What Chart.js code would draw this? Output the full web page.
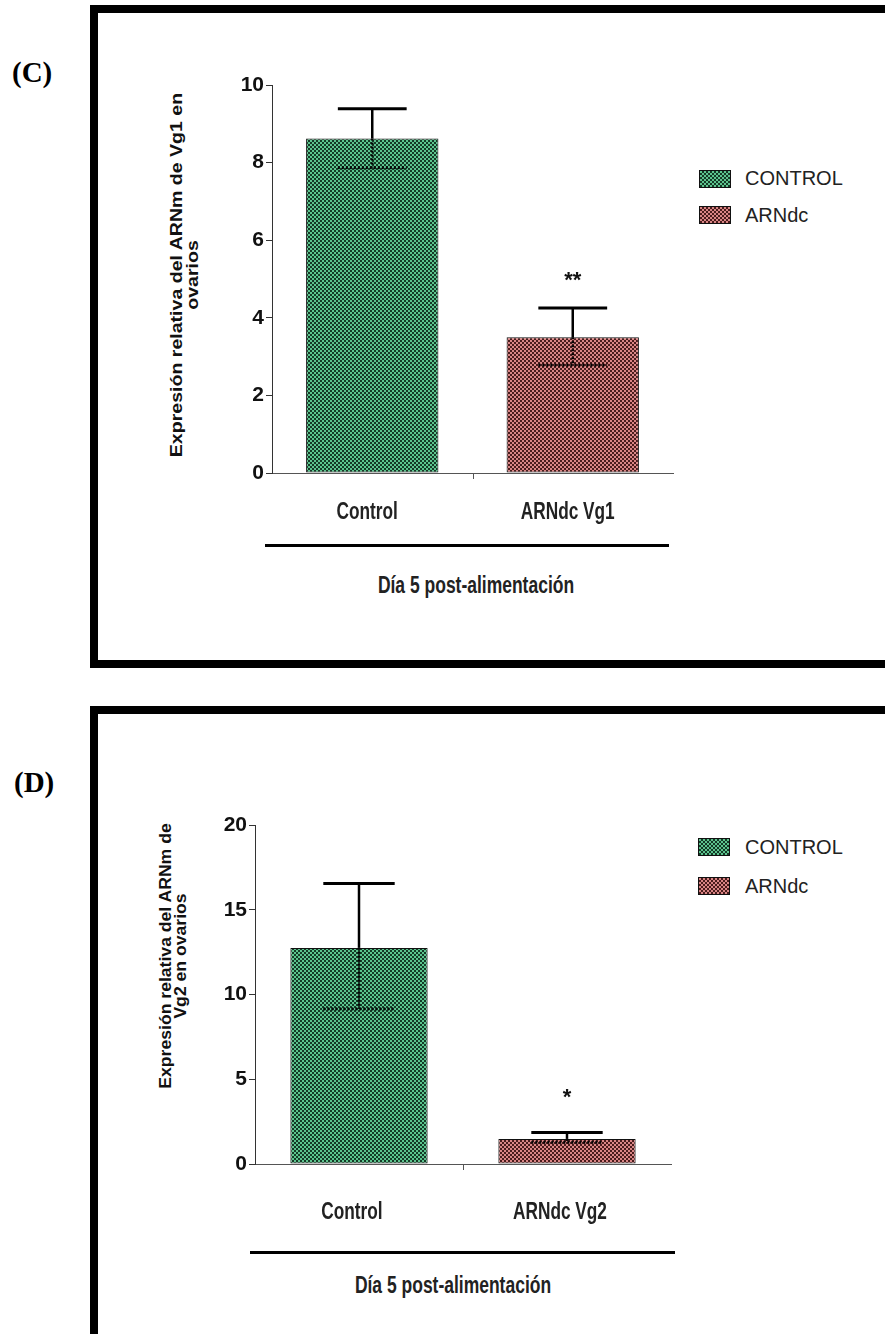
<!DOCTYPE html>
<html><head><meta charset="utf-8">
<script src="https://cdn.jsdelivr.net/npm/chart.js@4.4.1/dist/chart.umd.min.js"></script>
<style>
html,body{margin:0;padding:0;background:#fff;width:885px;height:1334px;overflow:hidden;position:relative;}
.frame{position:absolute;border:8px solid #000;box-sizing:border-box;}
.plabel{position:absolute;font-family:"Liberation Serif","Times New Roman",serif;font-weight:bold;font-size:29px;color:#000;line-height:30px;}
.ytitle{position:absolute;font-family:"Liberation Sans",Arial,sans-serif;font-weight:bold;color:#111;text-align:center;white-space:nowrap;transform-origin:50% 50%;}
.sw{position:absolute;width:32px;height:18px;box-sizing:border-box;border:1px solid #111;}
.sw.g{background:repeating-conic-gradient(#143a26 0 25%,#5cc48e 0 50%) 0 0/4px 4px;}
.sw.r{background:repeating-conic-gradient(#4a1c1c 0 25%,#d98585 0 50%) 0 0/4px 4px;}
.lt{position:absolute;font-family:"Liberation Sans",Arial,sans-serif;font-size:20px;line-height:20px;color:#222;}
.hline{position:absolute;height:3px;background:#000;}
.foot{position:absolute;width:300px;text-align:center;font-family:"Liberation Sans",Arial,sans-serif;font-weight:bold;font-size:23px;line-height:24px;color:#222;transform:scaleX(0.76);transform-origin:50% 50%;}
canvas{position:absolute;left:0;}
</style>
</head><body>
<div class="frame" style="left:90px;top:5px;width:830px;height:663px;"></div>
<div class="frame" style="left:90px;top:706px;width:830px;height:640px;"></div>
<div class="plabel" style="left:12px;top:57px;">(C)</div>
<div class="plabel" style="left:14px;top:767px;">(D)</div>

<div class="ytitle" style="font-size:17px;line-height:16px;width:440px;left:-35px;top:259px;transform:rotate(-90deg) scaleX(1.15);">Expresión relativa del ARNm de Vg1 en<br>ovarios</div>
<div class="ytitle" style="font-size:16px;line-height:15px;width:400px;left:-27px;top:941px;transform:rotate(-90deg) scaleX(1.1);">Expresión relativa del ARNm de<br>Vg2 en ovarios</div>

<div class="sw g" style="left:699px;top:170px;"></div><div class="lt" style="left:745px;top:168px;">CONTROL</div>
<div class="sw r" style="left:699px;top:206px;"></div><div class="lt" style="left:745px;top:205px;">ARNdc</div>
<div class="sw g" style="left:698px;top:838px;"></div><div class="lt" style="left:745px;top:837px;">CONTROL</div>
<div class="sw r" style="left:698px;top:877px;"></div><div class="lt" style="left:745px;top:876px;">ARNdc</div>

<div class="hline" style="left:265px;top:544px;width:404px;"></div>
<div class="hline" style="left:250px;top:1251px;width:425px;"></div>
<div class="foot" style="left:326px;top:573px;">Día 5 post-alimentación</div>
<div class="foot" style="left:303px;top:1273px;">Día 5 post-alimentación</div>

<canvas id="cC" width="885" height="700" style="top:0;width:885px;height:700px;"></canvas>
<canvas id="cD" width="885" height="634" style="top:700px;width:885px;height:634px;"></canvas>

<script>
// ---- Data ----
const categoriesC = ['Control', 'ARNdc Vg1'];
const meansC = [8.62, 3.50];
const errHighC = [9.39, 4.25];
const errLowC = [7.87, 2.78];
const starsC = ['', '**'];
const yTicksC = [0, 2, 4, 6, 8, 10];

const categoriesD = ['Control', 'ARNdc Vg2'];
const meansD = [12.75, 1.48];
const errHighD = [16.55, 1.86];
const errLowD = [9.15, 1.28];
const starsD = ['', '*'];
const yTicksD = [0, 5, 10, 15, 20];

const seriesNames = ['CONTROL', 'ARNdc'];

function makePattern(light, dark) {
  const c = document.createElement('canvas');
  c.width = 4; c.height = 4;
  const g = c.getContext('2d');
  g.fillStyle = light; g.fillRect(0, 0, 4, 4);
  g.fillStyle = dark; g.fillRect(0, 0, 2, 2); g.fillRect(2, 2, 2, 2);
  return g.createPattern(c, 'repeat');
}
const greenPat = makePattern('#5cc48e', '#143a26');
const redPat = makePattern('#d98585', '#4a1c1c');

const errorBarPlugin = {
  id: 'errorBars',
  afterDatasetsDraw(chart, args, opts) {
    const { ctx } = chart;
    const y = chart.scales.y, x = chart.scales.x;
    const meta = chart.getDatasetMeta(0);
    ctx.save();
    meta.data.forEach((bar, i) => {
      const cx = bar.x;
      const yHi = y.getPixelForValue(opts.high[i]);
      const yLo = y.getPixelForValue(opts.low[i]);
      const yMean = bar.y;
      const capW = bar.width * 0.52;
      ctx.strokeStyle = '#000';
      ctx.setLineDash([]);
      ctx.lineWidth = 2.5;
      ctx.beginPath(); ctx.moveTo(cx, yHi); ctx.lineTo(cx, yMean); ctx.stroke();
      ctx.lineWidth = 3;
      ctx.beginPath(); ctx.moveTo(cx - capW / 2, yHi); ctx.lineTo(cx + capW / 2, yHi); ctx.stroke();
      ctx.strokeStyle = '#050505';
      ctx.setLineDash([2, 2]);
      ctx.lineWidth = 2.5;
      ctx.beginPath(); ctx.moveTo(cx, yMean); ctx.lineTo(cx, yLo); ctx.stroke();
      ctx.lineWidth = 3;
      ctx.beginPath(); ctx.moveTo(cx - capW / 2, yLo); ctx.lineTo(cx + capW / 2, yLo); ctx.stroke();
      ctx.setLineDash([]);
      if (opts.stars[i]) {
        ctx.fillStyle = '#111';
        ctx.font = 'bold 22px "Liberation Sans", Arial, sans-serif';
        ctx.textAlign = 'center';
        ctx.textBaseline = 'middle';
        ctx.fillText(opts.stars[i], cx, yHi - opts.starGap);
      }
    });
    // middle category separator tick
    const mid = (x.getPixelForValue(0) + x.getPixelForValue(1)) / 2;
    ctx.strokeStyle = '#555'; ctx.lineWidth = 1;
    ctx.beginPath(); ctx.moveTo(Math.round(mid) + 0.5, y.bottom); ctx.lineTo(Math.round(mid) + 0.5, y.bottom + 6); ctx.stroke();
    // narrow category labels, placed at the category scale's tick positions
    ctx.fillStyle = '#222';
    ctx.font = 'bold 23px "Liberation Sans", Arial, sans-serif';
    ctx.textAlign = 'center';
    ctx.textBaseline = 'middle';
    x.ticks.forEach((t, i) => {
      const px = x.getPixelForTick(i) + opts.labelOffset;
      ctx.save();
      ctx.translate(px, x.top + opts.labelPad);
      ctx.scale(0.75, 1);
      ctx.fillText(x.getLabelForValue(t.value), 0, 0);
      ctx.restore();
    });
    ctx.restore();
  }
};

function build(id, cats, means, hi, lo, stars, ticks, pad, labelOffset, labelPad, starGap) {
  const maxV = ticks[ticks.length - 1];
  const step = ticks[1] - ticks[0];
  return new Chart(document.getElementById(id), {
    type: 'bar',
    data: {
      labels: cats,
      datasets: [{
        label: seriesNames.join(' / '),
        data: means,
        backgroundColor: [greenPat, redPat],
        borderColor: '#111',
        borderWidth: 1,
        borderSkipped: false,
        barPercentage: 0.66,
        categoryPercentage: 1.0
      }]
    },
    options: {
      responsive: false,
      animation: false,
      layout: { padding: pad },
      plugins: {
        legend: { display: false },
        tooltip: { enabled: false },
        errorBars: { high: hi, low: lo, stars: stars, starGap: starGap, labelOffset: labelOffset, labelPad: labelPad }
      },
      scales: {
        x: {
          offset: true,
          grid: { display: false },
          border: { display: true, color: '#555', width: 1 },
          ticks: { display: false },
          afterFit: s => { s.height = 60; }
        },
        y: {
          min: 0, max: maxV,
          afterBuildTicks: s => { s.ticks = ticks.map(v => ({ value: v })); },
          grid: { drawOnChartArea: false, drawTicks: true, tickLength: 6, color: '#333' },
          border: { display: true, color: '#333', width: 1 },
          ticks: {
            stepSize: step,
            color: '#111',
            padding: 2,
            font: { family: '"Liberation Sans", Arial, sans-serif', size: 21, weight: 'bold' }
          },
          afterFit: s => { s.width = 60; }
        }
      }
    },
    plugins: [errorBarPlugin]
  });
}

build('cC', categoriesC, meansC, errHighC, errLowC, starsC, yTicksC,
  { left: 212, right: 212, top: 85, bottom: 167 }, -5, 40, 27);
build('cD', categoriesD, meansD, errHighD, errLowD, starsD, yTicksD,
  { left: 195, right: 214, top: 125, bottom: 110 }, -7, 49, 35);
</script>
</body></html>
